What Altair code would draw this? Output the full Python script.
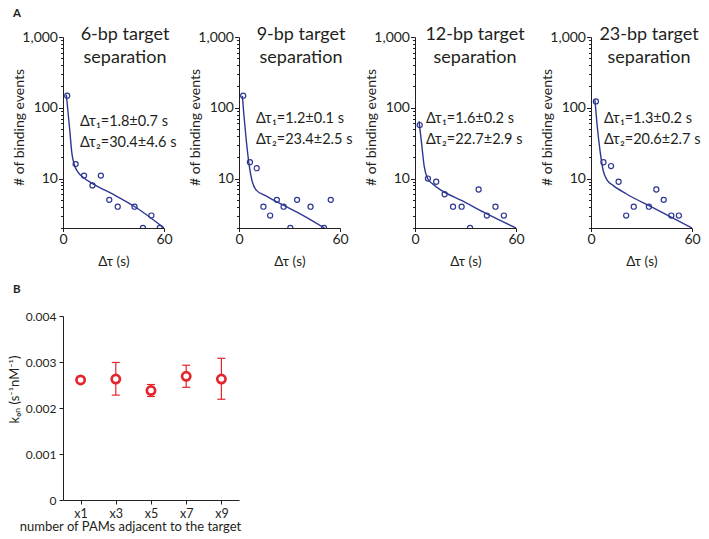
import altair as alt
import pandas as pd

FONT = "Lato"
BLUE = "#2e3790"
RED = "#e3262d"
INK = "#231f20"

# ---------- Panel A data ----------
TITLE1 = ["6-bp target", "9-bp target", "12-bp target", "23-bp target"]
TITLE2 = ["separation", "separation", "separation", "separation"]
ANN1 = ["Δτ₁=1.8±0.7 s", "Δτ₁=1.2±0.1 s", "Δτ₁=1.6±0.2 s", "Δτ₁=1.3±0.2 s"]
ANN2 = ["Δτ₂=30.4±4.6 s", "Δτ₂=23.4±2.5 s", "Δτ₂=22.7±2.9 s", "Δτ₂=20.6±2.7 s"]

# binned counts (points)
PT_X = [
    [2.5, 7.5, 12.5, 17.5, 22.5, 27.5, 32.5, 42.5, 47.5, 52.5, 57.5],
    [2.5, 6.5, 10.5, 14.5, 18.5, 22.5, 26.5, 30.5, 34.5, 42.5, 50.5, 54.5],
    [2.8, 7.7, 12.6, 17.6, 22.6, 27.7, 32.7, 37.8, 42.7, 47.8, 52.8],
    [2.9, 7.4, 11.9, 16.4, 20.9, 25.4, 34.4, 38.8, 43.2, 47.7, 52.2],
]
PT_Y = [
    [148, 16, 11, 8, 11, 5, 4, 4, 2, 3, 2],
    [148, 17, 14, 4, 3, 5, 4, 2, 5, 4, 2, 5],
    [57, 10, 9, 6, 4, 4, 2, 7, 3, 4, 3],
    [123, 17, 15, 9, 3, 4, 4, 7, 5, 3, 3],
]
# fitted curves
FIT_X = [
    [2.0, 4.0, 5.3, 6.9, 8.9, 11.9, 17.8, 29.7, 43.4, 60.0],
    [2.0, 2.8, 4.3, 5.9, 7.9, 10.4, 15.4, 23.2, 35.0, 50.8],
    [2.4, 3.9, 5.5, 7.5, 10.2, 15.7, 27.6, 41.3, 60.0],
    [2.3, 3.7, 5.3, 7.2, 9.6, 13.1, 20.9, 36.5, 60.0],
]
FIT_Y = [
    [153, 48.5, 22.5, 15.3, 12.3, 10.4, 8.4, 6.0, 3.9, 2.0],
    [147, 85, 35, 16.4, 9.0, 6.8, 5.8, 4.6, 3.3, 2.0],
    [64.6, 31.6, 14.7, 10.0, 8.5, 6.8, 4.9, 3.3, 2.0],
    [131, 54.7, 25.4, 13.1, 9.5, 8.0, 6.1, 3.9, 2.0],
]
X_TICKS = [0, 5, 10, 15, 20, 25, 30, 35, 40, 45, 50, 55, 60]
Y_TICKS = [2, 3, 4, 5, 6, 7, 8, 9, 10, 20, 30, 40, 50, 60, 70, 80, 90,
           100, 200, 300, 400, 500, 600, 700, 800, 900, 1000]

# ---------- Panel B data ----------
PAMS = ["x1", "x3", "x5", "x7", "x9"]
KON = [0.00261, 0.00263, 0.00238, 0.00269, 0.00263]
KON_LO = [0.00255, 0.00228, 0.00225, 0.00245, 0.00219]
KON_HI = [0.00267, 0.00299, 0.00251, 0.00293, 0.00308]
B_TICKS = [0, 0.0005, 0.001, 0.0015, 0.002, 0.0025, 0.003, 0.0035, 0.004]

W_A, H_A = 101, 191
W_B, H_B = 176, 184
TITLE_CX = [62, 62, 60, 58]
ANN_X = [17, 17, 11, 13]
ANN_Y = [89, 86, 86, 86]


def panel_a(i):
    pts = pd.DataFrame({"t": PT_X[i], "n": PT_Y[i]})
    fit = pd.DataFrame({"t": FIT_X[i], "n": FIT_Y[i]})
    txt = pd.DataFrame({"t1": [TITLE1[i]], "t2": [TITLE2[i]],
                        "a1": [ANN1[i]], "a2": [ANN2[i]], "p": ["A"]})
    xs = alt.Scale(domain=[0, 60], nice=False, zero=False)
    ys = alt.Scale(type="log", domain=[2, 1000], nice=False)
    xax = alt.Axis(
        values=X_TICKS, title="Δτ (s)",
        labelExpr="datum.value % 20 == 0 ? datum.label : ''",
        labelFontSize=14, labelPadding=1, tickSize=3.5,
        labelFlush=False, labelOverlap=False,
        titleFontSize=13.5, titleFontWeight="normal",
        titleY=37, titleBaseline="alphabetic", grid=False,
    )
    yax = alt.Axis(
        values=Y_TICKS, title="# of binding events",
        labelExpr="(datum.value == 10 || datum.value == 100 || datum.value == 1000) ? format(datum.value, ',') : ''",
        tickSize={"condition": {"test": "datum.value == 10 || datum.value == 100 || datum.value == 1000", "value": 4.5}, "value": 2.5},
        labelFontSize=14, labelPadding=1, labelFlush=False, labelOverlap=False,
        titleFontSize=14, titleFontWeight="normal",
        titleX=-44, titleY=90, titleAngle=270, titleAlign="center",
        titleBaseline="middle", grid=False,
    )
    base_x = alt.X("t:Q", scale=xs, axis=xax)
    base_y = alt.Y("n:Q", scale=ys, axis=yax)
    line = alt.Chart(fit).mark_line(
        color=BLUE, strokeWidth=1.4, interpolate="monotone", clip=True
    ).encode(x=base_x, y=base_y)
    dots = alt.Chart(pts).mark_point(
        shape="circle", filled=False, color=BLUE, size=26, strokeWidth=1.2,
        opacity=1, clip=True
    ).encode(x=alt.X("t:Q", scale=xs), y=alt.Y("n:Q", scale=ys))
    tbase = alt.Chart(txt)
    t1 = tbase.mark_text(font=FONT, fontSize=18, align="center",
                         baseline="alphabetic", color=INK).encode(
        x=alt.value(TITLE_CX[i]), y=alt.value(3), text="t1:N")
    t2 = tbase.mark_text(font=FONT, fontSize=18, align="center",
                         baseline="alphabetic", color=INK).encode(
        x=alt.value(TITLE_CX[i]), y=alt.value(26), text="t2:N")
    a1 = tbase.mark_text(font=FONT, fontSize=14.5, align="left",
                         baseline="alphabetic", color=INK).encode(
        x=alt.value(ANN_X[i]), y=alt.value(ANN_Y[i]), text="a1:N")
    a2 = tbase.mark_text(font=FONT, fontSize=14.5, align="left",
                         baseline="alphabetic", color=INK).encode(
        x=alt.value(ANN_X[i]), y=alt.value(ANN_Y[i] + 21), text="a2:N")
    layers = [line, dots, t1, t2, a1, a2]
    if i == 0:
        lab = tbase.mark_text(font=FONT, fontSize=11.5, fontWeight="bold",
                              align="left", baseline="alphabetic",
                              color=INK).encode(
            x=alt.value(-50), y=alt.value(-20), text="p:N")
        layers.append(lab)
    return alt.layer(*layers).properties(width=W_A, height=H_A)


bdf = pd.DataFrame({"pam": PAMS, "kon": KON, "lo": KON_LO, "hi": KON_HI})
bx_scale = alt.Scale(type="point", padding=0.5)
by_scale = alt.Scale(domain=[0, 0.004], nice=False)
bxax = alt.Axis(
    title="number of PAMs adjacent to the target", labelAngle=0,
    labelFontSize=12.5, labelPadding=3, tickSize=4,
    titleFontSize=13, titleFontWeight="normal",
    titleX=67, titleY=30, titleBaseline="alphabetic", grid=False,
)
byax = alt.Axis(
    values=B_TICKS, title="kₒₙ (s⁻¹nM⁻¹)",
    labelExpr="round(datum.value * 2000) % 2 == 0 ? (datum.value == 0 ? '0' : format(datum.value, '.3f')) : ''",
    labelFontSize=12, labelPadding=3, tickSize=4, labelFlush=False,
    labelOverlap=False,
    titleFontSize=13, titleFontWeight="normal",
    titleX=-48.5, titleY=73, titleAngle=270, titleAlign="center",
    titleBaseline="middle", grid=False,
)
bbase = alt.Chart(bdf)
bx = alt.X("pam:N", sort=PAMS, scale=bx_scale, axis=bxax)
bars = bbase.mark_rule(color=RED, strokeWidth=1.2).encode(
    x=bx, y=alt.Y("lo:Q", scale=by_scale, axis=byax), y2="hi:Q")
cap_lo = bbase.mark_tick(color=RED, thickness=1.2, size=8, opacity=1).encode(
    x=alt.X("pam:N", sort=PAMS, scale=bx_scale), y=alt.Y("lo:Q", scale=by_scale))
cap_hi = bbase.mark_tick(color=RED, thickness=1.2, size=8, opacity=1).encode(
    x=alt.X("pam:N", sort=PAMS, scale=bx_scale), y=alt.Y("hi:Q", scale=by_scale))
circ = bbase.mark_circle(fill="white", stroke=RED, strokeWidth=2.7, size=68,
                         opacity=1, fillOpacity=1).encode(
    x=alt.X("pam:N", sort=PAMS, scale=bx_scale), y=alt.Y("kon:Q", scale=by_scale))
blab = alt.Chart(pd.DataFrame({"p": ["B"]})).mark_text(
    font=FONT, fontSize=11.5, fontWeight="bold", align="left",
    baseline="alphabetic", color=INK).encode(
    x=alt.value(-50), y=alt.value(-23), text="p:N")
panel_b = alt.layer(bars, cap_lo, cap_hi, circ, blab).properties(width=W_B, height=H_B)

row = alt.hconcat(*[panel_a(i) for i in range(4)], spacing=75, bounds="flush")
chart = alt.vconcat(row, panel_b, spacing=279, bounds="flush").properties(
    padding={"left": 0, "top": 0, "right": 0, "bottom": 0}
).configure_view(stroke=None).configure_axis(
    labelFont=FONT, titleFont=FONT, labelColor=INK, titleColor=INK,
    domainColor=INK, tickColor=INK, domainWidth=1, tickWidth=1,
).configure_text(font=FONT)

chart.save("out.html", embed_options={"renderer": "svg", "actions": False})
